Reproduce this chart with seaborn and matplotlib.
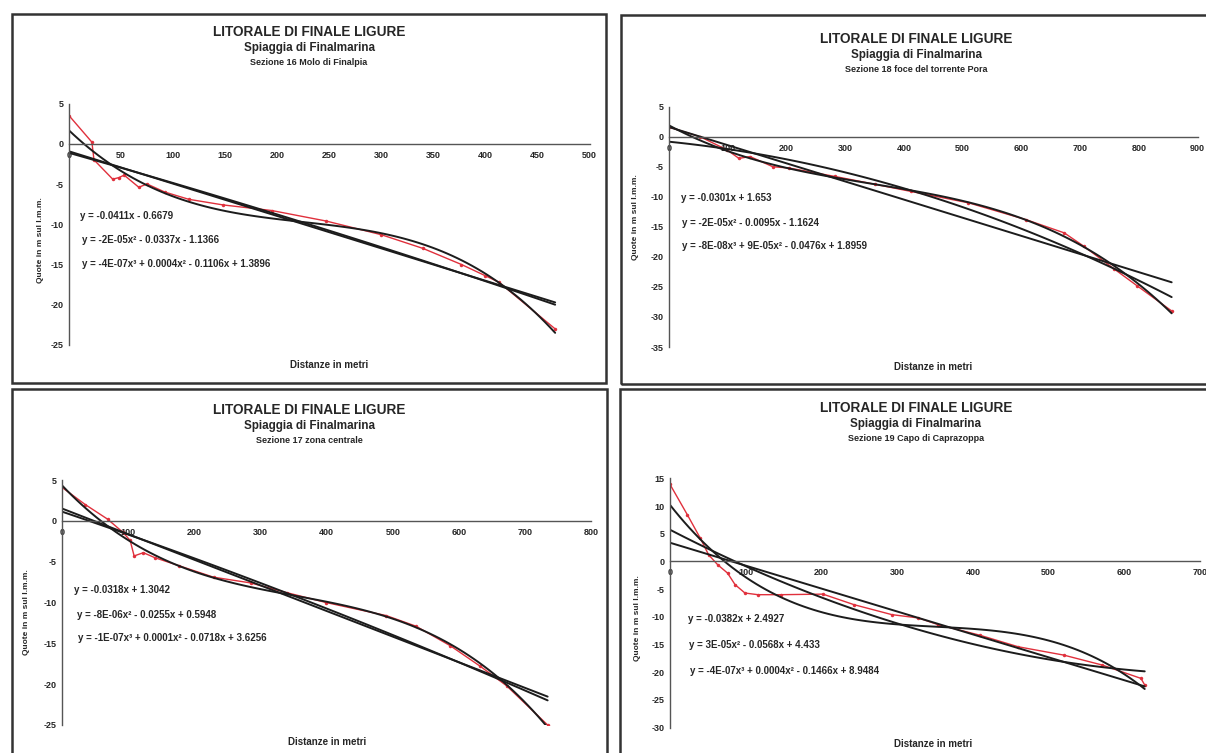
import numpy as np
import matplotlib
matplotlib.use("Agg")
import matplotlib.pyplot as plt
from matplotlib.patches import Rectangle
import seaborn as sns

# Sezione 16 Molo di Finalpia
x16 = [0, 22, 24, 42, 48, 53, 67, 75, 92, 115, 148, 195, 247, 300, 340, 377, 400, 413, 467]
z16 = [3.5, 0.2, -2.0, -4.4, -4.2, -3.9, -5.4, -5.0, -6.0, -6.9, -7.6, -8.3, -9.6, -11.3, -13.0, -15.0, -16.4, -17.2, -23.0]
eq16 = ["y = -0.0411x - 0.6679",
        "y = -2E-05x² - 0.0337x - 1.1366",
        "y = -4E-07x³ + 0.0004x² - 0.1106x + 1.3896"]

# Sezione 18 foce del torrente Pora
x18 = [0, 53, 99, 119, 138, 177, 204, 282, 350, 412, 510, 608, 673, 706, 758, 797, 856]
z18 = [1.6, 0.0, -2.2, -3.6, -3.3, -5.0, -5.2, -6.6, -7.9, -9.1, -11.0, -13.8, -16.0, -18.2, -22.0, -24.8, -29.0]
eq18 = ["y = -0.0301x + 1.653",
        "y = -2E-05x² - 0.0095x - 1.1624",
        "y = -8E-08x³ + 9E-05x² - 0.0476x + 1.8959"]

# Sezione 17 zona centrale
x17 = [0, 35, 69, 92, 103, 109, 123, 140, 177, 229, 285, 340, 399, 490, 535, 587, 632, 672, 734]
z17 = [4.1, 2.0, 0.2, -1.4, -2.4, -4.3, -3.9, -4.5, -5.5, -6.9, -7.6, -8.8, -10.0, -11.6, -12.9, -15.3, -17.8, -20.2, -25.0]
eq17 = ["y = -0.0318x + 1.3042",
        "y = -8E-06x² - 0.0255x + 0.5948",
        "y = -1E-07x³ + 0.0001x² - 0.0718x + 3.6256"]

# Sezione 19 Capo di Caprazoppa
x19 = [0, 23, 40, 51, 63, 76, 86, 99, 116, 147, 202, 243, 293, 328, 354, 409, 460, 520, 571, 622, 627]
z19 = [13.9, 8.4, 4.2, 1.2, -0.6, -2.1, -4.2, -5.7, -6.0, -6.0, -5.9, -7.8, -9.6, -10.2, -11.4, -13.3, -15.4, -16.9, -18.7, -21.1, -22.3]
eq19 = ["y = -0.0382x + 2.4927",
        "y = 3E-05x² - 0.0568x + 4.433",
        "y = -4E-07x³ + 0.0004x² - 0.1466x + 8.9484"]

title = "LITORALE DI FINALE LIGURE"
beach = "Spiaggia di Finalmarina"

sns.set_style("white")
plt.rcParams["font.family"] = ["Liberation Sans", "DejaVu Sans"]
plt.rcParams["font.weight"] = "bold"
plt.rcParams["axes.unicode_minus"] = False

W, H = 1206, 753
fig = plt.figure(figsize=(W / 100, H / 100), dpi=100)


def fx(px):
    return px / W


def fy(py):
    return 1 - py / H


def panel(x, z, eqs, section, box, title_y, plot, xmax, xstep, ylim, ystep, eq_pos, xlab_pos, ylab_pos):
    # border of the chart
    bx0, by0, bx1, by1 = box
    fig.patches.append(Rectangle((fx(bx0), fy(by1)), fx(bx1 - bx0), (by1 - by0) / H,
                                 transform=fig.transFigure, fill=False,
                                 edgecolor="#333333", lw=1.8, clip_on=False))
    cx = (bx0 + bx1) / 2
    fig.text(fx(cx), fy(title_y), title, ha="center", va="center", fontsize=9.8, fontweight="bold")
    fig.text(fx(cx), fy(title_y + 16), beach, ha="center", va="center", fontsize=8.4, fontweight="bold")
    fig.text(fx(cx), fy(title_y + 30.5), section, ha="center", va="center", fontsize=6.5, fontweight="bold")

    l, t, r, b = plot
    ax = fig.add_axes([fx(l), fy(b), fx(r - l), (b - t) / H])
    ax.patch.set_alpha(0)
    sns.lineplot(x=x, y=z, ax=ax, color="#e0303c", lw=1.0, marker="o", markersize=2.5,
                 markeredgewidth=0, estimator=None, sort=False)
    for order in (1, 2, 3):
        sns.regplot(x=np.array(x, float), y=np.array(z, float), order=order, ci=None,
                    scatter=False, truncate=True, ax=ax,
                    line_kws=dict(color="#1c1c1c", lw=1.4))
    ax.set_xlim(0, xmax)
    ax.set_ylim(*ylim)
    ax.set_xlabel("")
    ax.set_ylabel("")
    ax.set_xticks(np.arange(0, xmax + 1, xstep))
    ax.set_yticks(np.arange(ylim[0], ylim[1] + 1, ystep))
    for s in ("top", "right"):
        ax.spines[s].set_visible(False)
    ax.spines["bottom"].set_position(("data", 0))
    for s in ("bottom", "left"):
        ax.spines[s].set_color("#555555")
        ax.spines[s].set_linewidth(1.0)
    ax.tick_params(axis="both", labelsize=6.5, direction="inout", length=4, width=0.8,
                   color="#555555", pad=2)
    ax.tick_params(axis="x", pad=3)
    for lab in ax.get_xticklabels() + ax.get_yticklabels():
        lab.set_fontweight("bold")
    ax.grid(False)

    for i, (ex, ey) in enumerate(eq_pos):
        fig.text(fx(ex), fy(ey), eqs[i], ha="left", va="center", fontsize=7, fontweight="bold")
    fig.text(fx(xlab_pos[0]), fy(xlab_pos[1]), "Distanze in metri", ha="center", va="center",
             fontsize=7, fontweight="bold")
    fig.text(fx(ylab_pos[0]), fy(ylab_pos[1]), "Quote in m sul l.m.m.", ha="center", va="center",
             rotation=90, fontsize=6, fontweight="bold")


panel(x16, z16, eq16, "Sezione 16 Molo di Finalpia",
      (12, 14, 606, 383), 31.7, (69, 103.5, 589.5, 345), 500, 50, (-25, 5), 5,
      [(79.5, 216), (81.5, 240), (82.5, 264)], (329, 365), (40, 240))
panel(x18, z18, eq18, "Sezione 18 foce del torrente Pora",
      (621, 15, 1212, 384), 39.3, (669, 106.7, 1197.5, 347), 900, 100, (-35, 5), 5,
      [(681, 197.7), (681.5, 223.3), (681.5, 246)], (933, 367), (635.5, 217))
panel(x17, z17, eq17, "Sezione 17 zona centrale",
      (12, 389, 607, 760), 410, (62, 480, 591.3, 725), 800, 100, (-25, 5), 5,
      [(74, 590), (77, 615), (77.7, 638.3)], (327, 741.7), (27, 612))
panel(x19, z19, eq19, "Sezione 19 Capo di Caprazoppa",
      (620, 389, 1212, 760), 408.3, (670, 478.3, 1200, 727.7), 700, 100, (-30, 15), 5,
      [(688.4, 619), (689, 645), (690, 670.7)], (933, 744.3), (637.5, 618))

fig.savefig("out.png", dpi=100, facecolor="white")
